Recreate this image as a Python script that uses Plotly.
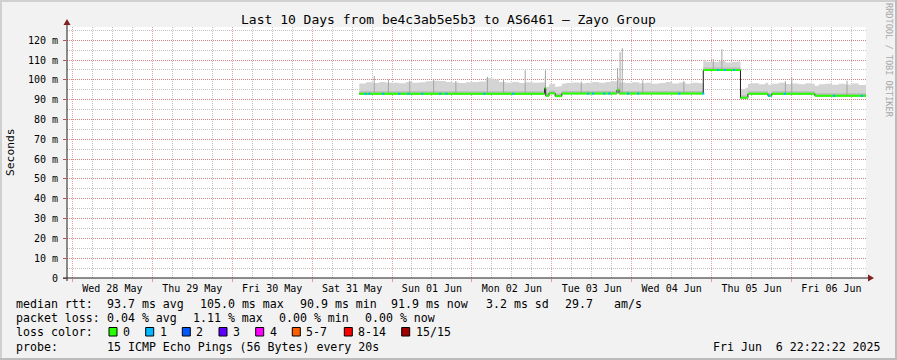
import plotly.graph_objects as go
from datetime import datetime, timedelta

# ---------------- data ----------------
range_start = "2025-05-27 22:22:22"
range_end = "2025-06-06 22:22:22"
data_end = "2025-06-06 22:22:00"

# median RTT steps (ms): value holds from its time until the next time
median_times = ["2025-05-31 14:10", "2025-06-02 21:50", "2025-06-02 22:10", "2025-06-02 23:10",
                "2025-06-03 01:00", "2025-06-03 03:00", "2025-06-03 19:35", "2025-06-03 20:10",
                "2025-06-04 21:30", "2025-06-05 08:40", "2025-06-05 10:55", "2025-06-05 16:55",
                "2025-06-05 18:05", "2025-06-06 07:00"]
median_vals = [93.0, 95.8, 92.0, 93.2, 91.8, 93.1, 95.0, 93.1, 105.0, 91.0, 93.0, 92.0, 93.0, 92.0]

# smoke (ping spread) height above the median, one value per 2 hours from the data start
smoke_start = "2025-05-31 14:10"
smoke_step_hours = 2
smoke_offsets = [
    5.2, 5.8, 5.4, 5.9, 5.5,
    5.6, 5.3, 5.9, 5.5, 5.8, 6.3, 6.6, 6.4, 6.0, 5.7, 5.4, 5.8,
    5.9, 6.2, 7.8, 7.2, 6.0, 5.6, 5.9, 5.4, 5.8, 5.5, 5.7, 4.6,
    4.8, 5.0, 5.3, 5.6, 5.2, 5.5, 5.8, 5.4, 5.9, 6.2, 5.6, 5.3,
    5.7, 5.2, 5.5, 4.9, 5.3, 5.8, 5.1, 5.6, 5.0, 5.4, 5.2, 4.2,
    4.0, 4.5, 3.8, 4.2, 4.4, 5.0, 5.3, 4.8, 5.5, 5.0, 5.6, 4.9,
    5.2, 4.8, 5.3, 5.0, 5.8, 6.0, 5.5, 6.1, 5.7, 6.2, 5.4, 5.9,
]

# individual slow pings (spikes) : time, top value
spike_times = ["2025-05-31 18:40", "2025-05-31 22:55", "2025-06-01 05:20", "2025-06-01 12:30",
               "2025-06-01 19:10", "2025-06-02 04:40", "2025-06-02 09:30", "2025-06-02 16:00",
               "2025-06-02 22:05", "2025-06-03 08:50", "2025-06-03 19:45", "2025-06-03 20:30",
               "2025-06-03 21:10", "2025-06-04 03:20", "2025-06-04 15:40", "2025-06-05 00:30",
               "2025-06-05 03:05", "2025-06-05 22:10", "2025-06-06 00:05", "2025-06-06 16:40"]
spike_vals = [101.9, 100.2, 99.6, 100.0, 99.4, 101.5, 100.1, 104.9, 104.9, 99.2, 106.0, 114.0,
              116.0, 99.8, 99.5, 110.5, 115.5, 99.3, 101.2, 99.6]

# samples with 1 lost ping (drawn in the "1" loss colour)
loss1_times = ["2025-05-31 15:40", "2025-05-31 16:50", "2025-05-31 21:00", "2025-06-01 01:50",
               "2025-06-01 04:35", "2025-06-01 08:45", "2025-06-01 14:10", "2025-06-01 16:00",
               "2025-06-02 03:25", "2025-06-02 12:05", "2025-06-03 10:35", "2025-06-03 12:05",
               "2025-06-03 15:25", "2025-06-03 16:55", "2025-06-03 22:35", "2025-06-04 01:35",
               "2025-06-04 13:55", "2025-06-04 21:10", "2025-06-05 01:35", "2025-06-05 03:40",
               "2025-06-05 06:25", "2025-06-05 16:55", "2025-06-05 21:40", "2025-06-06 12:25",
               "2025-06-06 20:45"]

y_ticks = [0, 10, 20, 30, 40, 50, 60, 70, 80, 90, 100, 110, 120]
y_tick_text = ["0"] + [f"{v} m" for v in y_ticks[1:]]

loss_labels = ["0", "1", "2", "3", "4", "5-7", "8-14", "15/15"]
loss_colors = ["#26ff00", "#00b8ff", "#0059ff", "#5e00ff", "#ff00ff", "#ff5e00", "#ff0000", "#a10000"]

title = "Last 10 Days from be4c3ab5e5b3 to AS6461 \u2013 Zayo Group"
rtt_items = ["median rtt:", "93.7 ms avg", "105.0 ms max", "90.9 ms min", "91.9 ms now",
             "3.2 ms sd", "29.7", "am/s"]
loss_items = ["packet loss:", "0.04 % avg", "1.11 % max", "0.00 % min", "0.00 % now"]
probe_items = ["probe:", "15 ICMP Echo Pings (56 Bytes) every 20s"]
stamp = "Fri Jun\u00a0\u00a06 22:22:22 2025"

# ---------------- helpers ----------------
P = lambda s: datetime.fromisoformat(s)
mt = [P(s) for s in median_times]
t_end = P(data_end)


def median_at(t):
    v = median_vals[0]
    for ti, vi in zip(mt, median_vals):
        if ti <= t:
            v = vi
    return v


s0 = P(smoke_start)
smoke_times = [s0 + timedelta(hours=smoke_step_hours * i) for i in range(len(smoke_offsets))]


def offset_at(t):
    o = smoke_offsets[0]
    for ti, oi in zip(smoke_times, smoke_offsets):
        if ti <= t:
            o = oi
    return o


breaks = sorted(set(mt + smoke_times + [t_end]))
lower = [median_at(t) - 0.3 for t in breaks]
upper = [median_at(t) + offset_at(t) for t in breaks]
inner = [median_at(t) + 1.3 for t in breaks]

fig = go.Figure()
fig.add_trace(go.Scatter(x=breaks, y=lower, mode="lines", line=dict(width=0, shape="hv"),
                         hoverinfo="skip"))
fig.add_trace(go.Scatter(x=breaks, y=upper, mode="lines", line=dict(width=0, shape="hv"),
                         fill="tonexty", fillcolor="#d4d4d4", hoverinfo="skip"))
fig.add_trace(go.Scatter(x=breaks, y=lower, mode="lines", line=dict(width=0, shape="hv"),
                         hoverinfo="skip"))
fig.add_trace(go.Scatter(x=breaks, y=inner, mode="lines", line=dict(width=0, shape="hv"),
                         fill="tonexty", fillcolor="#bcbcbc", hoverinfo="skip"))

# spikes
sx, sy = [], []
for ts, v in zip(spike_times, spike_vals):
    t = P(ts)
    sx += [t, t, None]
    sy += [median_at(t), v, None]
fig.add_trace(go.Scatter(x=sx, y=sy, mode="lines", line=dict(width=1, color="#a4a4a4"),
                         hoverinfo="skip"))

# median black connecting line
fig.add_trace(go.Scatter(x=mt + [t_end], y=median_vals + [median_vals[-1]], mode="lines",
                         line=dict(width=1, color="#1f1f1f", shape="hv"), hoverinfo="skip"))
# median green segments
gx, gy = [], []
ends = mt[1:] + [t_end]
for a, b, v in zip(mt, ends, median_vals):
    gx += [a, b, None]
    gy += [v, v, None]
fig.add_trace(go.Scatter(x=gx, y=gy, mode="lines", line=dict(width=2, color=loss_colors[0]),
                         hoverinfo="skip"))
# loss 1 segments
bx, by = [], []
for ts in loss1_times:
    t = P(ts)
    bx += [t, t + timedelta(minutes=40), None]
    v = median_at(t)
    by += [v, v, None]
fig.add_trace(go.Scatter(x=bx, y=by, mode="lines", line=dict(width=2, color=loss_colors[1]),
                         hoverinfo="skip"))

# ---------------- layout ----------------
W, H = 897, 360
L, R, T, B = 67, 31, 27, 82
PW, PH = W - L - R, H - T - B
fx = lambda px: (px - L) / PW
fy = lambda py: (H - B - py) / PH

MONO = "DejaVu Sans Mono"
grid_c = "rgba(143,143,143,0.55)"
mgrid_c = "rgba(222,79,79,0.55)"

fig.update_layout(
    width=W, height=H, margin=dict(l=L, r=R, t=T, b=B, pad=0),
    paper_bgcolor="#f2f2f2", plot_bgcolor="#ffffff", showlegend=False,
    font=dict(family=MONO, size=10, color="#000000"),
)
fig.update_xaxes(
    type="date", range=[range_start, range_end], tick0="2025-05-28", dtick=86400000,
    tickformat="%a %d %b", ticklabelmode="period", showgrid=True, gridcolor=mgrid_c,
    gridwidth=1, griddash="1px,1px", zeroline=False, showline=False,
    ticks="outside", ticklen=3, tickcolor=mgrid_c, tickfont=dict(family=MONO, size=10),
    ticklabelstandoff=-2,
    minor=dict(tick0="2025-05-28", dtick=21600000, showgrid=True, gridcolor=grid_c,
               griddash="1px,1px", gridwidth=1),
)
fig.update_yaxes(
    range=[0, 126.7], tickvals=y_ticks, ticktext=y_tick_text, showgrid=True,
    gridcolor=mgrid_c, gridwidth=1, griddash="1px,1px", zeroline=False, showline=False,
    ticks="outside", ticklen=3, tickcolor="#c05050", tickfont=dict(family=MONO, size=10),
    ticklabelstandoff=3,
    minor=dict(dtick=5, showgrid=True, gridcolor=grid_c, griddash="1px,1px", gridwidth=1),
)

shapes = []
axis_c = "#1f1f1f"
arrow_c = "#801f1f"
# axes
shapes.append(dict(type="line", xref="paper", yref="paper", x0=fx(63), x1=fx(869),
                   y0=fy(278), y1=fy(278), line=dict(color=axis_c, width=1)))
shapes.append(dict(type="line", xref="paper", yref="paper", x0=fx(67), x1=fx(67),
                   y0=fy(281), y1=fy(24), line=dict(color=axis_c, width=1)))
# arrows
shapes.append(dict(type="path", xref="paper", yref="paper",
                   path=f"M {fx(868)} {fy(274.5)} L {fx(874)} {fy(278)} L {fx(868)} {fy(281.5)} Z",
                   fillcolor=arrow_c, line=dict(width=0)))
shapes.append(dict(type="path", xref="paper", yref="paper",
                   path=f"M {fx(63.5)} {fy(25)} L {fx(67)} {fy(19)} L {fx(70.5)} {fy(25)} Z",
                   fillcolor=arrow_c, line=dict(width=0)))
# frame
shapes.append(dict(type="rect", xref="paper", yref="paper", x0=fx(0), x1=fx(W), y0=fy(0), y1=fy(2),
                   fillcolor="#d0d0d0", line=dict(width=0)))
shapes.append(dict(type="rect", xref="paper", yref="paper", x0=fx(0), x1=fx(2), y0=fy(0), y1=fy(H),
                   fillcolor="#d0d0d0", line=dict(width=0)))
shapes.append(dict(type="rect", xref="paper", yref="paper", x0=fx(0), x1=fx(W), y0=fy(H - 2), y1=fy(H),
                   fillcolor="#bcbcbc", line=dict(width=0)))
shapes.append(dict(type="rect", xref="paper", yref="paper", x0=fx(W - 2), x1=fx(W), y0=fy(0), y1=fy(H),
                   fillcolor="#bcbcbc", line=dict(width=0)))

# legend colour boxes
box_x = [109, 145.7, 182.3, 219, 255.7, 292.3, 344.3, 401.7]
for bxp, col in zip(box_x, loss_colors):
    shapes.append(dict(type="rect", xref="paper", yref="paper", x0=fx(bxp), x1=fx(bxp + 8),
                       y0=fy(327.5), y1=fy(336), fillcolor=col, line=dict(color="#000000", width=1)))

ann = []


def txt(s, px, py, size=11.6, xanchor="left", color="#000000", angle=0, yanchor="middle"):
    ann.append(dict(text=s, x=fx(px), y=fy(py), xref="paper", yref="paper", showarrow=False,
                    xanchor=xanchor, yanchor=yanchor, textangle=angle, borderpad=0, borderwidth=0,
                    font=dict(family=MONO, size=size, color=color)))


txt(title, 448, 19, size=13, xanchor="center")
txt("Seconds", 10, 152, size=11.3, xanchor="center", angle=-90)
txt("RRDTOOL / TOBI OETIKER", 889, 60, size=8.6, xanchor="center", angle=90, color="#a8a8a8")

rtt_x = [16, 106.5, 199.5, 299.5, 391, 486, 565, 613.5]
for s, px in zip(rtt_items, rtt_x):
    txt(s, px, 304)
loss_x = [16, 106.5, 192.8, 278.8, 364.5]
for s, px in zip(loss_items, loss_x):
    txt(s, px, 318)
txt("loss color:", 16, 332)
for s, bxp in zip(loss_labels, box_x):
    txt(s, bxp + 14, 332)
probe_x = [16, 106.8]
for s, px in zip(probe_items, probe_x):
    txt(s, px, 346.5)
txt(stamp, 881, 346.5, xanchor="right")

fig.update_layout(shapes=shapes, annotations=ann)
fig.write_html("out.html")
